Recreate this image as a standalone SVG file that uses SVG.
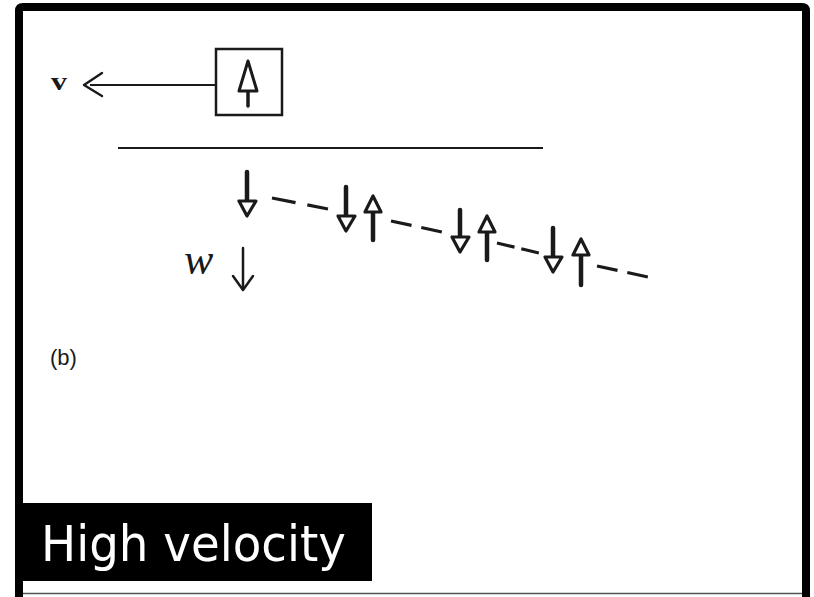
<svg xmlns="http://www.w3.org/2000/svg" width="814" height="597" viewBox="0 0 814 597">
<style>
.stem{stroke:#1a1a1a;stroke-width:4.5;stroke-linecap:round;fill:none}
.head{stroke:#1a1a1a;stroke-width:3.2;fill:#fff;stroke-linejoin:round}
.dash{stroke:#1a1a1a;stroke-width:3.2;fill:none}
.thin{stroke:#1a1a1a;stroke-width:2.5;fill:none;stroke-linecap:round;stroke-linejoin:round}
</style>
<rect width="814" height="597" fill="#fff"/>
<g id="frame">
<path d="M19 597 V11 Q19 7 23 7 H802 Q806 7 806 11 V597" fill="none" stroke="#000" stroke-width="8"/>
<line x1="23" y1="593.5" x2="802" y2="593.5" stroke="#555" stroke-width="1.5"/>
</g>
<g id="v-label"><text x="51" y="90" font-family="Liberation Serif, serif" font-size="26" font-weight="bold" fill="#1a1a1a" textLength="16" lengthAdjust="spacingAndGlyphs">v</text></g>
<g id="box">
<rect x="216" y="49" width="66" height="66" fill="#fff" stroke="#1a1a1a" stroke-width="2.5"/>
<line x1="248" y1="91" x2="248" y2="106" class="stem" style="stroke-width:3.5"/>
<polygon points="248,61 239,91 257,91" class="head" style="stroke-width:3"/>
</g>
<g id="w-label"><text x="184" y="274" font-family="Liberation Serif, serif" font-style="italic" font-size="44" fill="#1a1a1a">w</text></g>
<g id="w-arrow">
<line x1="243" y1="248" x2="243" y2="289" class="thin"/>
<polyline points="233,276 243,290 253,276" class="thin"/>
</g>
<g id="b-label"><text x="50" y="365" font-family="Liberation Sans, Arial, sans-serif" font-size="22" fill="#1a1a1a">(b)</text></g>
<g id="surface"><line x1="118" y1="148" x2="543" y2="148" stroke="#1a1a1a" stroke-width="2.2"/></g>
<g id="spins">
<g id="s1"><line x1="247" y1="172" x2="247" y2="201" class="stem"/><polygon points="239,201 256,201 247,216" class="head"/></g>
<g id="s2"><line x1="346" y1="187" x2="346" y2="216" class="stem"/><polygon points="338,216 355,216 346,231" class="head"/></g>
<g id="s3"><line x1="373" y1="240" x2="373" y2="212" class="stem"/><polygon points="365,212 381,212 373,196" class="head"/></g>
<g id="s4"><line x1="460" y1="210" x2="460" y2="237" class="stem"/><polygon points="452,237 469,237 460,252" class="head"/></g>
<g id="s5"><line x1="487" y1="260" x2="487" y2="232" class="stem"/><polygon points="479,232 495,232 487,216" class="head"/></g>
<g id="s6"><line x1="553" y1="228" x2="553" y2="257" class="stem"/><polygon points="545,257 562,257 553,272" class="head"/></g>
<g id="s7"><line x1="581" y1="285" x2="581" y2="255" class="stem"/><polygon points="573,255 589,255 581,239" class="head"/></g>
</g>
<g id="connectors">
<line x1="90" y1="85" x2="216" y2="85" stroke="#1a1a1a" stroke-width="2.2"/>
<polyline points="102,73 84,85 102,96" class="thin" style="stroke-width:2.4"/>
<line x1="272" y1="198" x2="328" y2="209" class="dash" style="stroke-dasharray:24 12"/>
<line x1="391" y1="221" x2="442" y2="232" class="dash" style="stroke-dasharray:21 10"/>
<line x1="497" y1="243" x2="539" y2="253" class="dash" style="stroke-dasharray:18 7"/>
<line x1="597" y1="266" x2="648" y2="277" class="dash" style="stroke-dasharray:21 10"/>
</g>
<g id="caption">
<rect x="23" y="503" width="349" height="78" fill="#000"/>
<text x="41" y="561" font-family="DejaVu Sans, Verdana, sans-serif" font-size="50" fill="#fff" textLength="305" lengthAdjust="spacingAndGlyphs">High velocity</text>
</g>
</svg>
